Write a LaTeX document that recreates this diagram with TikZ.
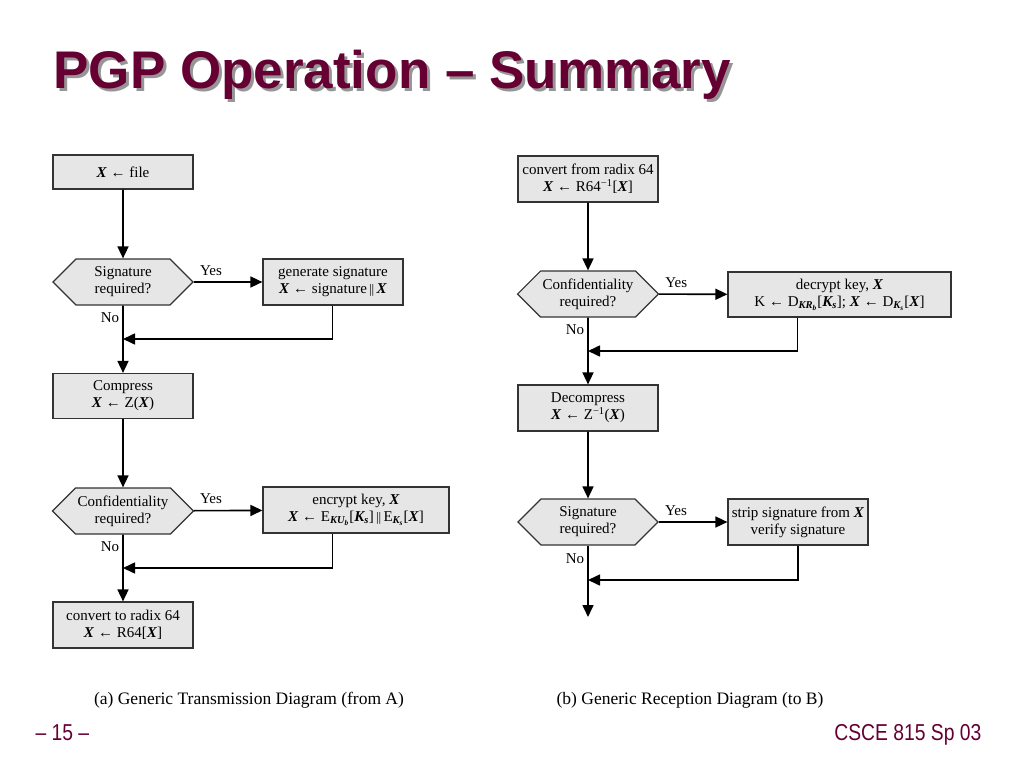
\documentclass[tikz,border=0pt]{standalone}
\usepackage{fontspec}
\setmainfont{Liberation Serif}
\newfontfamily\titlefont{Liberation Sans}
\newfontfamily\footfont[FakeStretch=0.84]{Liberation Sans}
\usepackage{tikz}
\usetikzlibrary{arrows.meta,shapes.symbols,calc}
\definecolor{slidered}{RGB}{102,0,51}
\definecolor{boxgray}{RGB}{230,230,230}
\definecolor{shadowgray}{RGB}{150,150,150}
\newcommand{\bX}{\textbf{\textit{X}}}
\newcommand{\bKs}{\textbf{\textit{K\textsubscript{s}}}}
\newcommand{\getsarrow}{\textbf{←}}
\newcommand{\catbar}{{\fontsize{13}{13}\selectfont\,||\,}}

\begin{document}
\begin{tikzpicture}[x = 1pt, y = -1pt,
    procbox/.style = {draw = black!80, line width = 1.2pt, fill = boxgray, minimum width = 140pt, minimum height = 46pt, inner sep = 2pt, align = center, font = \fontsize{15}{17}\selectfont},
    testhex/.style = {procbox, signal, signal to = west and east, signal pointer angle = 90},
    flow/.style = {line width = 1.6pt, -{Triangle[length = 12pt, width = 11pt]}},
    yeslab/.style = {pos = .25, above = 6pt, inner sep = 0pt, font = \fontsize{15}{17}\selectfont},
    nolab/.style = {pos = .18, left, inner sep = 3pt, font = \fontsize{15}{17}\selectfont}]
    \useasboundingbox (0,0) rectangle (1024,768);

    % title with its shadow
    \node[anchor = base west, text = shadowgray, font = \titlefont\bfseries\fontsize{53}{60}\selectfont] (titleshadow) at (53,91) {PGP Operation – Summary};
    \node[anchor = base west, text = slidered, font = \titlefont\bfseries\fontsize{53}{60}\selectfont] (title) at (50,88) {PGP Operation – Summary};

    % (a) transmission
    \node[procbox, minimum height = 34pt] (file) at (123,172) {\bX{} \getsarrow{} file};
    \node[testhex] (sigq) at (123,282) {Signature\\required?};
    \node[procbox] (gensig) at (333,282) {generate signature\\\bX{} \getsarrow{} signature\catbar\bX};
    \node[procbox, minimum height = 45pt] (compr) at (123,396) {Compress\\\bX{} \getsarrow{} Z(\bX)};
    \node[testhex] (confq) at (123,511) {Confidentiality\\required?};
    \node[procbox, minimum width = 186pt] (encr) at (356,510) {encrypt key, \bX\\\bX{} \getsarrow{} E\textsubscript{\textbf{\textit{KU\textsubscript{b}}}}[\bKs]\catbar E\textsubscript{\bKs}[\bX]};
    \node[procbox] (radix) at (123,625) {convert to radix 64\\\bX{} \getsarrow{} R64[\bX]};
    \coordinate (m1) at (123,339);
    \coordinate (m2) at (123,568);

    \draw[flow] (file) -- (sigq);
    \draw[flow] (sigq) -- node[yeslab] {Yes} (gensig);
    \draw[flow] (sigq) -- node[nolab] {No} (compr);
    \draw[flow] ([xshift = 70pt]gensig.south west) |- (m1);
    \draw[flow] (compr) -- (confq);
    \draw[flow] (confq) -- node[yeslab] {Yes} (encr);
    \draw[flow] (confq) -- node[nolab] {No} (radix);
    \draw[flow] ([xshift = 70pt]encr.south west) |- (m2);

    % (b) reception
    \node[procbox] (unradix) at (588,179) {convert from radix 64\\\bX{} \getsarrow{} R64\textsuperscript{−1}[\bX]};
    \node[testhex] (confq2) at (588,294) {Confidentiality\\required?};
    \node[procbox, minimum width = 223pt, minimum height = 45pt] (decr) at (839.5,294.5) {decrypt key, \bX\\K \getsarrow{} D\textsubscript{\textbf{\textit{KR\textsubscript{b}}}}[\bKs]; \bX{} \getsarrow{} D\textsubscript{\bKs}[\bX]};
    \node[procbox] (decompr) at (588,408) {Decompress\\\bX{} \getsarrow{} Z\textsuperscript{−1}(\bX)};
    \node[testhex] (sigq2) at (588,522) {Signature\\required?};
    \node[procbox] (strip) at (798,522) {strip signature from \bX\\verify signature};
    \coordinate (m3) at (588,351);
    \coordinate (m4) at (588,580);
    \coordinate (out) at (588,617);

    \draw[flow] (unradix) -- (confq2);
    \draw[flow] (confq2) -- node[yeslab] {Yes} (decr);
    \draw[flow] (confq2) -- node[nolab] {No} (decompr);
    \draw[flow] ([xshift = 70pt]decr.south west) |- (m3);
    \draw[flow] (decompr) -- (sigq2);
    \draw[flow] (sigq2) -- node[yeslab] {Yes} (strip);
    \draw[flow] (sigq2) -- node[nolab] {No} (out);
    \draw[flow] (strip) |- (m4);

    % captions and footer
    \node[font = \fontsize{17.5}{20}\selectfont] (capa) at (249,700) {(a) Generic Transmission Diagram (from A)};
    \node[font = \fontsize{17.5}{20}\selectfont] (capb) at (690,700) {(b) Generic Reception Diagram (to B)};
    \node[anchor = base west, text = slidered, font = \footfont\fontsize{23}{26}\selectfont] (pagenum) at (32,740) {– 15 –};
    \node[anchor = base east, text = slidered, font = \footfont\fontsize{23}{26}\selectfont] (course) at (985,740) {CSCE 815 Sp 03};
\end{tikzpicture}
\end{document}
